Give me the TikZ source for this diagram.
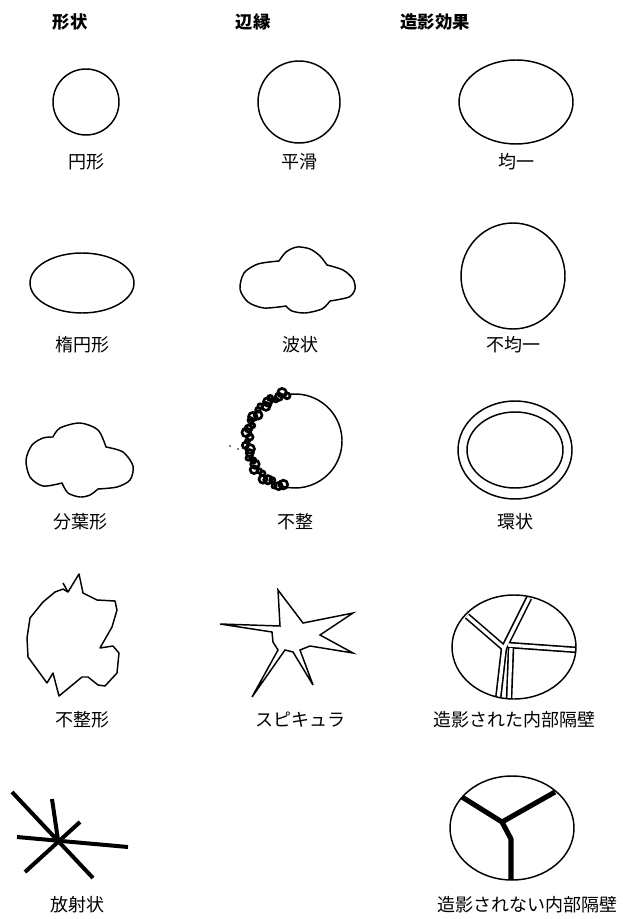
\documentclass[tikz,border=0pt]{standalone}
\usepackage{fontspec}
\newfontfamily\jp{Noto Sans CJK JP}

\tikzset{
	outline/.style={line width=1.1pt},
	caption/.style={font=\jp\fontsize{13.5}{16}\selectfont},
	heading/.style={font=\jp\bfseries\fontsize{13}{15}\selectfont},
	bead/.style={line width=2pt},
	ray/.style={line width=3pt},
	wall/.style={line width=3.8pt},
	wallout/.style={line width=4.9pt},
	wallin/.style={white, line width=2.5pt}
}

\begin{document}
\begin{tikzpicture}[x=0.75pt, y=-0.75pt]
	\useasboundingbox (0,0) rectangle (622,919);
	% column headings
	\node[heading] (hshape) at (70, 22) {形状};
	\node[heading] (hedge) at (253, 22) {辺縁};
	\node[heading] (henh) at (435, 22) {造影効果};

	% row 1
	\draw[outline] (86,102) circle (33);
	\draw[outline] (299,102) circle (41);
	\draw[outline] (516,102) ellipse [x radius=57, y radius=42];
	\node[caption] (round) at (86, 162) {円形};
	\node[caption] (smooth) at (299, 162) {平滑};
	\node[caption] (homog) at (516, 162) {均一};

	% row 2
	\draw[outline] (82,283) ellipse [x radius=52, y radius=30];
	\draw[outline, line join=round]
		plot[smooth] coordinates {(279,261) (286,252) (297,247) (310,249) (320,256) (327,265)}
		-- plot[smooth] coordinates {(327,265) (343,270) (353,279) (355,289) (349,297) (330,301)}
		-- plot[smooth] coordinates {(330,301) (322,309) (305,313) (292,311) (286,306)}
		-- plot[smooth] coordinates {(286,306) (264,308) (248,302) (240,289) (244,273) (258,264) (279,261)}
		-- cycle;
	\draw[outline] (513,276) ellipse [x radius=52, y radius=53];
	\node[caption] (oval) at (82, 345) {楕円形};
	\node[caption] (wavy) at (300, 345) {波状};
	\node[caption] (inhomog) at (513, 345) {不均一};

	% row 3
	\draw[outline, line join=round]
		plot[smooth] coordinates {(53,437) (60,428) (80,423) (98,430) (106,447)}
		-- plot[smooth] coordinates {(106,447) (123,452) (133,466) (130,480) (117,487) (98,489)}
		-- plot[smooth] coordinates {(98,489) (90,495) (80,497) (68,493) (62,483)}
		-- plot[smooth] coordinates {(62,483) (43,486) (30,477) (26,460) (32,445) (43,438) (53,437)}
		-- cycle;
	\draw[outline] (295,441) ++(261:47) arc [start angle=261, end angle=465, radius=47];
	% knobbly left rim
	\foreach \a in {105,110,...,263} {
		\pgfmathsetmacro\r{47.5+2.5*sin(\a*23)}
		\pgfmathsetmacro\s{3.2+1.2*cos(\a*17)}
		\draw[bead, shift={(295,441)}] (\a:\r) circle (\s);
	}
	\fill (230,446) circle (0.9);
	\fill (238,449) circle (0.9);
	\draw[outline] (515,450) ellipse [x radius=57, y radius=49];
	\draw[outline] (515,450) ellipse [x radius=48, y radius=38];
	\node[caption] (lobul) at (80, 522) {分葉形};
	\node[caption] (irreg) at (295, 522) {不整};
	\node[caption] (rim) at (515, 522) {環状};

	% row 4
	\draw[outline] (63,583) -- (68,592);
	\draw[outline, line join=round] (68,592) -- (79,574) -- (83,593) -- (97,600) -- (115,601)
		-- (117,610) -- (112,627) -- (100,648) -- (113,646) -- (119,653) -- (117,673)
		-- (105,686) -- (98,685) -- (88,677) -- (82,677) -- (59,696) -- (53,673)
		-- (47,683) -- (28,657) -- (27,638) -- (30,618) -- (43,602) -- (55,592)
		-- (63,589) -- cycle;
	\draw[outline, line join=miter] (220,624) -- (280,626) -- (278,590) -- (303,623)
		-- (353,613) -- (320,635) -- (353,653) -- (310,646) -- (300,650) -- (313,685)
		-- (293,652) -- (285,650) -- (252,697) -- (278,650) -- (273,642) -- (272,632)
		-- cycle;
	\begin{scope}
		\clip (514,647) ellipse [x radius=62, y radius=52];
		\draw[wallout] (467,616) -- (504,648) -- (529,598);
		\draw[wallout] (508,645) -- (578,650);
		\draw[wallout] (504,648) -- (498,700);
		\draw[wallout] (511,648) -- (509,700);
		\draw[wallin] (467,616) -- (504,648) -- (529,598);
		\draw[wallin] (508,645) -- (578,650);
		\draw[wallin] (504,648) -- (498,700);
		\draw[wallin] (511,648) -- (509,700);
	\end{scope}
	\draw[outline] (514,647) ellipse [x radius=62, y radius=52];
	\node[caption] (irrshape) at (82, 720) {不整形};
	\node[caption] (spic) at (300, 720) {スピキュラ};
	\node[caption] (ensept) at (514, 720) {造影された内部隔壁};

	% row 5
	\draw[ray] (12,792) -- (93,878);
	\draw[ray] (52,799) -- (58,840);
	\draw[ray] (80,822) -- (25,872);
	\draw[ray] (17,837) -- (128,847);
	\draw[outline] (512,828) ellipse [x radius=62, y radius=52];
	\begin{scope}
		\clip (512,828) ellipse [x radius=62, y radius=52];
		\draw[wall, line join=round] (462,797) -- (502,822) -- (555,792);
		\draw[wall, line join=round] (502,822) -- (511,839) -- (511,885);
	\end{scope}
	\node[caption] (radial) at (77, 905) {放射状};
	\node[caption] (nonsept) at (527, 905) {造影されない内部隔壁};
\end{tikzpicture}
\end{document}
